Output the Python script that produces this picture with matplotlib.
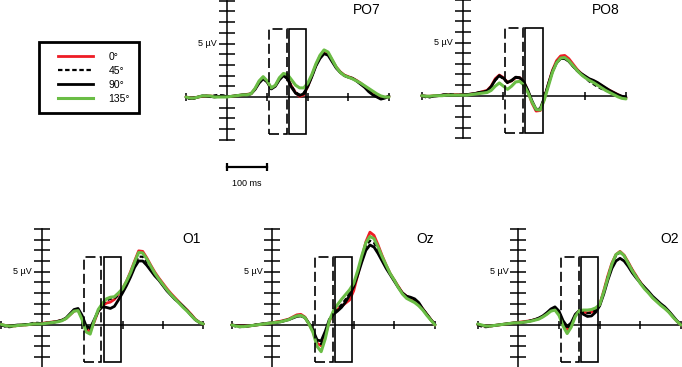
import numpy as np
import matplotlib
matplotlib.use('Agg')
import matplotlib.pyplot as plt
from matplotlib.lines import Line2D
from matplotlib.patches import Rectangle

plt.rcParams['font.family'] = ['Liberation Sans', 'DejaVu Sans']

# time axis (ms) shared by all channels
times = np.arange(-100, 401, 10)

conditions = ['0°', '45°', '90°', '135°']

# --- PO7 (µV) ---
po7_0 = [0.0, -0.1, -0.1, 0.0, 0.05, 0.1, 0.1, 0.05, 0.05, 0.05, 0.05, 0.05, 0.1, 0.15, 0.2, 0.25, 0.3,
         0.75, 1.4, 1.8, 1.45, 0.8, 1.05, 1.7, 2.1, 1.8, 1.0, 0.4, 0.05, 0.2, 1.0, 2.0, 3.0, 3.8, 4.3,
         4.1, 3.45, 2.8, 2.35, 2.05, 1.9, 1.75, 1.55, 1.3, 1.0, 0.7, 0.4, 0.15, 0.0, -0.05, 0.05]
po7_45 = [0.0, -0.2, -0.15, 0.0, 0.1, 0.1, 0.0, 0.15, 0.2, 0.15, 0.1, 0.05, 0.1, 0.15, 0.2, 0.2, 0.3,
          0.75, 1.4, 1.8, 1.45, 0.8, 1.05, 1.7, 2.1, 1.8, 1.0, 0.45, 0.2, 0.35, 1.05, 1.95, 2.95, 3.7, 4.15,
          4.0, 3.4, 2.75, 2.3, 2.0, 1.85, 1.7, 1.5, 1.25, 0.95, 0.6, 0.3, 0.05, -0.15, -0.1, 0.05]
po7_90 = [0.0, -0.15, -0.1, 0.0, 0.1, 0.1, 0.05, 0.0, 0.05, 0.1, 0.05, 0.05, 0.1, 0.15, 0.2, 0.2, 0.3,
          0.7, 1.3, 1.7, 1.4, 0.75, 1.0, 1.6, 2.0, 1.7, 0.9, 0.35, 0.15, 0.3, 1.0, 1.9, 2.9, 3.6, 4.05,
          3.9, 3.3, 2.7, 2.3, 2.0, 1.85, 1.75, 1.5, 1.2, 0.9, 0.5, 0.2, 0.0, -0.2, -0.1, 0.1]
po7_135 = [0.0, -0.1, -0.1, 0.0, 0.1, 0.1, 0.1, 0.0, 0.0, 0.0, 0.0, 0.05, 0.1, 0.15, 0.2, 0.2, 0.3,
           0.8, 1.5, 1.9, 1.5, 0.85, 1.1, 1.8, 2.2, 2.1, 1.6, 1.1, 0.85, 0.85, 1.3, 2.1, 3.1, 3.9, 4.4,
           4.2, 3.5, 2.8, 2.3, 2.0, 1.85, 1.7, 1.5, 1.3, 1.05, 0.8, 0.55, 0.3, 0.1, 0.0, 0.0]

# --- PO8 ---
po8_0 = [0.0, -0.05, -0.05, 0.0, 0.0, 0.05, 0.1, 0.1, 0.1, 0.1, 0.1, 0.1, 0.15, 0.2, 0.3, 0.4, 0.5,
         0.9, 1.6, 1.95, 1.7, 1.25, 1.4, 1.7, 1.7, 1.3, 0.4, -0.7, -1.45, -1.4, -0.3, 1.1, 2.4, 3.3, 3.75,
         3.8, 3.5, 3.0, 2.5, 2.1, 1.8, 1.55, 1.4, 1.2, 0.95, 0.7, 0.5, 0.3, 0.1, -0.1, -0.2]
po8_45 = [0.0, -0.15, -0.15, -0.05, 0.0, 0.1, 0.1, 0.15, 0.1, 0.05, 0.1, 0.1, 0.15, 0.2, 0.3, 0.35, 0.45,
          0.85, 1.45, 1.85, 1.6, 1.2, 1.4, 1.7, 1.65, 1.25, 0.45, -0.55, -1.35, -1.3, -0.25, 1.05, 2.3, 3.15, 3.55,
          3.55, 3.25, 2.8, 2.35, 2.0, 1.7, 1.35, 1.1, 0.85, 0.65, 0.5, 0.35, 0.2, 0.05, -0.1, -0.2]
po8_90 = [0.0, -0.05, -0.1, -0.05, 0.0, 0.05, 0.1, 0.05, 0.05, 0.05, 0.1, 0.1, 0.15, 0.2, 0.3, 0.35, 0.45,
          0.85, 1.5, 1.9, 1.65, 1.25, 1.45, 1.75, 1.7, 1.3, 0.5, -0.5, -1.3, -1.25, -0.2, 1.1, 2.3, 3.1, 3.5,
          3.5, 3.25, 2.8, 2.4, 2.1, 1.85, 1.6, 1.45, 1.25, 1.0, 0.75, 0.5, 0.3, 0.1, -0.05, -0.15]
po8_135 = [0.0, -0.05, -0.05, 0.0, 0.0, 0.0, 0.05, 0.05, 0.05, 0.05, 0.05, 0.05, 0.1, 0.15, 0.2, 0.25, 0.3,
           0.5, 0.9, 1.2, 0.9, 0.6, 0.9, 1.3, 1.35, 1.0, 0.3, -0.6, -1.3, -1.35, -0.4, 0.9, 2.2, 3.1, 3.55,
           3.6, 3.3, 2.85, 2.4, 2.0, 1.7, 1.45, 1.25, 1.0, 0.75, 0.5, 0.3, 0.1, -0.1, -0.25, -0.3]

# --- O1 ---
o1_0 = [0.05, -0.05, -0.1, -0.1, -0.05, 0.0, 0.0, 0.05, 0.1, 0.15, 0.15, 0.2, 0.25, 0.3, 0.35, 0.45, 0.6,
        0.95, 1.3, 1.4, 0.7, -0.4, -0.6, 0.3, 1.3, 1.8, 2.05, 2.15, 2.4, 2.9, 3.4, 4.1, 5.0, 6.0, 6.95,
        6.9, 6.3, 5.6, 4.95, 4.4, 3.9, 3.4, 2.95, 2.55, 2.15, 1.75, 1.4, 1.0, 0.55, 0.25, 0.1]
o1_45 = [0.0, -0.15, -0.2, -0.15, -0.05, 0.0, 0.05, 0.1, 0.2, 0.2, 0.15, 0.2, 0.25, 0.3, 0.35, 0.45, 0.6,
         1.0, 1.35, 1.45, 0.75, -0.3, -0.5, 0.4, 1.4, 1.9, 2.3, 2.45, 2.5, 2.8, 3.2, 3.9, 4.7, 5.6, 6.4,
         6.4, 5.9, 5.3, 4.7, 4.25, 3.75, 3.25, 2.85, 2.45, 2.1, 1.7, 1.35, 0.95, 0.5, 0.25, 0.1]
o1_90 = [0.0, -0.1, -0.1, -0.05, 0.0, 0.0, 0.05, 0.05, 0.1, 0.1, 0.1, 0.15, 0.2, 0.25, 0.35, 0.45, 0.65,
         1.05, 1.45, 1.55, 0.9, -0.1, -0.3, 0.5, 1.3, 1.7, 1.65, 1.55, 1.75, 2.35, 3.0, 3.7, 4.5, 5.4, 6.0,
         6.0, 5.6, 5.1, 4.6, 4.2, 3.7, 3.2, 2.8, 2.4, 2.1, 1.75, 1.35, 0.9, 0.5, 0.25, 0.1]
o1_135 = [0.05, -0.05, -0.1, -0.1, -0.05, 0.0, 0.0, 0.05, 0.1, 0.1, 0.1, 0.15, 0.2, 0.25, 0.3, 0.4, 0.6,
          0.95, 1.3, 1.35, 0.5, -0.65, -0.85, 0.4, 1.45, 2.0, 2.45, 2.6, 2.65, 3.0, 3.4, 4.1, 4.9, 5.9, 6.8,
          6.75, 6.2, 5.5, 4.85, 4.3, 3.8, 3.3, 2.85, 2.45, 2.05, 1.65, 1.3, 0.9, 0.5, 0.25, 0.1]

# --- Oz ---
oz_0 = [0.0, -0.05, -0.1, -0.1, -0.1, -0.05, 0.0, 0.05, 0.1, 0.15, 0.2, 0.3, 0.35, 0.45, 0.55, 0.75, 0.95,
        1.0, 0.75, 0.1, -0.6, -1.7, -1.95, -1.0, 0.35, 1.1, 1.45, 1.75, 2.05, 2.35, 3.2, 4.7, 6.3, 7.8, 8.7,
        8.4, 7.5, 6.5, 5.6, 4.8, 4.2, 3.6, 3.0, 2.7, 2.5, 2.35, 2.0, 1.5, 1.0, 0.5, 0.0]
oz_45 = [0.0, -0.15, -0.2, -0.15, -0.1, -0.05, 0.05, 0.1, 0.15, 0.2, 0.2, 0.25, 0.3, 0.4, 0.5, 0.7, 0.85,
         0.9, 0.7, 0.1, -0.6, -1.6, -1.8, -0.9, 0.4, 1.1, 1.5, 1.9, 2.4, 3.0, 3.8, 4.9, 6.2, 7.4, 7.9,
         7.7, 7.0, 6.2, 5.5, 4.8, 4.2, 3.55, 3.0, 2.65, 2.5, 2.35, 2.0, 1.5, 1.0, 0.5, 0.05]
oz_90 = [0.0, -0.05, -0.1, -0.1, -0.1, -0.05, 0.0, 0.05, 0.1, 0.15, 0.2, 0.25, 0.3, 0.4, 0.5, 0.65, 0.8,
         0.85, 0.7, 0.15, -0.5, -1.4, -1.5, -0.6, 0.5, 1.0, 1.3, 1.65, 2.15, 2.8, 3.6, 4.7, 5.9, 7.0, 7.5,
         7.3, 6.7, 6.0, 5.3, 4.7, 4.1, 3.5, 3.0, 2.7, 2.6, 2.45, 2.1, 1.5, 1.0, 0.5, 0.05]
oz_135 = [0.0, -0.1, -0.15, -0.15, -0.1, -0.05, 0.0, 0.05, 0.1, 0.15, 0.2, 0.25, 0.3, 0.4, 0.5, 0.7, 0.85,
          0.9, 0.7, 0.1, -0.7, -2.0, -2.5, -1.3, 0.4, 1.3, 1.9, 2.4, 2.85, 3.3, 3.9, 5.1, 6.5, 7.7, 8.3,
          8.1, 7.3, 6.4, 5.6, 4.8, 4.2, 3.5, 2.9, 2.5, 2.3, 2.1, 1.8, 1.4, 0.9, 0.45, 0.0]

# --- O2 ---
o2_0 = [0.05, -0.05, -0.1, -0.1, -0.05, 0.0, 0.05, 0.1, 0.15, 0.2, 0.25, 0.3, 0.35, 0.4, 0.5, 0.6, 0.8,
        1.05, 1.35, 1.5, 1.1, 0.2, -0.45, 0.0, 0.9, 1.35, 1.2, 1.15, 1.2, 1.4, 1.9, 3.2, 4.6, 5.8, 6.6,
        6.9, 6.55, 5.9, 5.2, 4.6, 4.0, 3.5, 3.05, 2.6, 2.25, 1.9, 1.6, 1.25, 0.8, 0.35, 0.0]
o2_45 = [0.0, -0.15, -0.2, -0.15, -0.05, 0.0, 0.05, 0.1, 0.15, 0.2, 0.2, 0.25, 0.3, 0.4, 0.5, 0.6, 0.8,
         1.1, 1.4, 1.55, 1.15, 0.3, -0.35, 0.0, 0.9, 1.35, 1.2, 1.1, 1.15, 1.4, 1.9, 3.1, 4.5, 5.7, 6.5,
         6.8, 6.5, 5.85, 5.15, 4.55, 4.0, 3.5, 3.05, 2.6, 2.25, 1.9, 1.6, 1.25, 0.8, 0.35, 0.0]
o2_90 = [0.05, -0.05, -0.1, -0.1, -0.05, 0.0, 0.05, 0.1, 0.15, 0.2, 0.2, 0.25, 0.3, 0.4, 0.5, 0.65, 0.85,
         1.15, 1.5, 1.7, 1.3, 0.4, -0.15, 0.2, 1.0, 1.35, 1.0, 0.8, 0.85, 1.2, 1.8, 2.9, 4.2, 5.3, 6.0,
         6.25, 6.0, 5.5, 4.9, 4.4, 3.95, 3.55, 3.15, 2.7, 2.35, 2.0, 1.7, 1.3, 0.85, 0.4, 0.05]
o2_135 = [0.1, 0.0, -0.1, -0.1, -0.05, 0.0, 0.05, 0.1, 0.15, 0.2, 0.2, 0.25, 0.3, 0.35, 0.45, 0.55, 0.75,
          1.0, 1.3, 1.4, 0.9, -0.1, -0.8, -0.2, 0.8, 1.35, 1.4, 1.4, 1.45, 1.6, 1.9, 3.1, 4.4, 5.7, 6.6,
          6.85, 6.5, 5.8, 5.1, 4.5, 3.9, 3.4, 3.0, 2.55, 2.2, 1.85, 1.55, 1.2, 0.75, 0.35, 0.0]

# analysis windows (ms) and scale bar
win_early = (105, 148)
win_late = (154, 196)
scale_bar_ms = 100

channels = {
    'PO7': [po7_0, po7_45, po7_90, po7_135],
    'PO8': [po8_0, po8_45, po8_90, po8_135],
    'O1': [o1_0, o1_45, o1_90, o1_135],
    'Oz': [oz_0, oz_45, oz_90, oz_135],
    'O2': [o2_0, o2_45, o2_90, o2_135],
}

# panel placement in pixels: x of -100 ms, x of 400 ms, y of 0 µV, px per µV, label x (ms)
layout = {
    'PO7': (186, 389, 97, 10.7, 346),
    'PO8': (421.7, 626, 95.7, 10.6, 350),
    'O1': (1.3, 203.3, 325, 10.67, 371),
    'Oz': (231.7, 435, 325, 10.67, 375),
    'O2': (477.7, 681, 325, 10.67, 373),
}

styles = [
    dict(color='#ee1c25', lw=2.0, ls='-', zorder=3),
    dict(color='black', lw=1.6, ls=(0, (2, 1.2)), zorder=4),
    dict(color='black', lw=2.0, ls='-', zorder=5),
    dict(color='#6abd45', lw=2.2, ls='-', zorder=6),
]

W, H = 682, 367
Y_LO, Y_HI = -4.5, 9.5

fig = plt.figure(figsize=(6.82, 3.67), dpi=100)


def make_panel(name):
    x_left, x_right, y_zero, ppuv, lab_x = layout[name]
    bottom_px = y_zero - Y_LO * ppuv
    ax = fig.add_axes([x_left / W, 1 - bottom_px / H,
                       (x_right - x_left) / W, (Y_HI - Y_LO) * ppuv / H])
    ax.set_xlim(-100, 400)
    ax.set_ylim(Y_LO, Y_HI)
    ax.axis('off')

    ms_per_px = 500 / (x_right - x_left)
    k = dict(color='black', lw=1.1, clip_on=False, zorder=2)
    # axes
    ax.plot([-100, 400], [0, 0], **k)
    ax.plot([0, 0], [-4, 9], **k)
    yt = [v for v in range(-4, 10) if v != 0]
    ax.hlines(yt, -8 * ms_per_px, 8 * ms_per_px, **k)
    ax.vlines([-100, 100, 200, 300, 400], -4 / ppuv, 4 / ppuv, **k)
    ax.text(-10 * ms_per_px, 5, '5 µV', ha='right', va='center', fontsize=6.5)

    # windows
    ax.add_patch(Rectangle((win_early[0], -3.5), win_early[1] - win_early[0], 9.9,
                           fill=False, lw=1.2, ls=(0, (6, 2.5)), ec='black', zorder=7, clip_on=False))
    ax.add_patch(Rectangle((win_late[0], -3.5), win_late[1] - win_late[0], 9.9,
                           fill=False, lw=1.2, ec='black', zorder=7, clip_on=False))

    for series, st in zip(channels[name], styles):
        ax.plot(times, series, color=st['color'], lw=st['lw'], ls=st['ls'],
                zorder=st['zorder'], clip_on=False, solid_capstyle='round')

    ax.text(lab_x, 8.1, name, ha='center', va='center', fontsize=10)
    return ax


axes = {name: make_panel(name) for name in channels}

# scale bar under PO7
ax = axes['PO7']
ppuv = layout['PO7'][3]
yb = -70 / ppuv
ax.plot([0, scale_bar_ms], [yb, yb], color='black', lw=1.6, clip_on=False)
ax.vlines([0, scale_bar_ms], yb - 4 / ppuv, yb + 4 / ppuv, color='black', lw=1.6, clip_on=False)
ax.text(scale_bar_ms / 2, yb - 16 / ppuv, f'{scale_bar_ms} ms', ha='center', va='center', fontsize=6.5)

# legend: entries placed without frame, box drawn separately
handles = [Line2D([], [], color=st['color'], lw=st['lw'], ls=st['ls']) for st in styles]
leg = fig.legend(handles, conditions, loc='upper left', bbox_to_anchor=(58 / W, 1 - 52 / H),
                 frameon=False, fontsize=7.5, handlelength=3.4, borderpad=0,
                 labelspacing=0.38, handletextpad=1.45, borderaxespad=0)
fig.add_artist(Rectangle((39 / W, 1 - 113 / H), 100 / W, 71 / H, transform=fig.transFigure,
                         fill=False, lw=2.0, ec='black'))

fig.savefig('out.png', dpi=100)
